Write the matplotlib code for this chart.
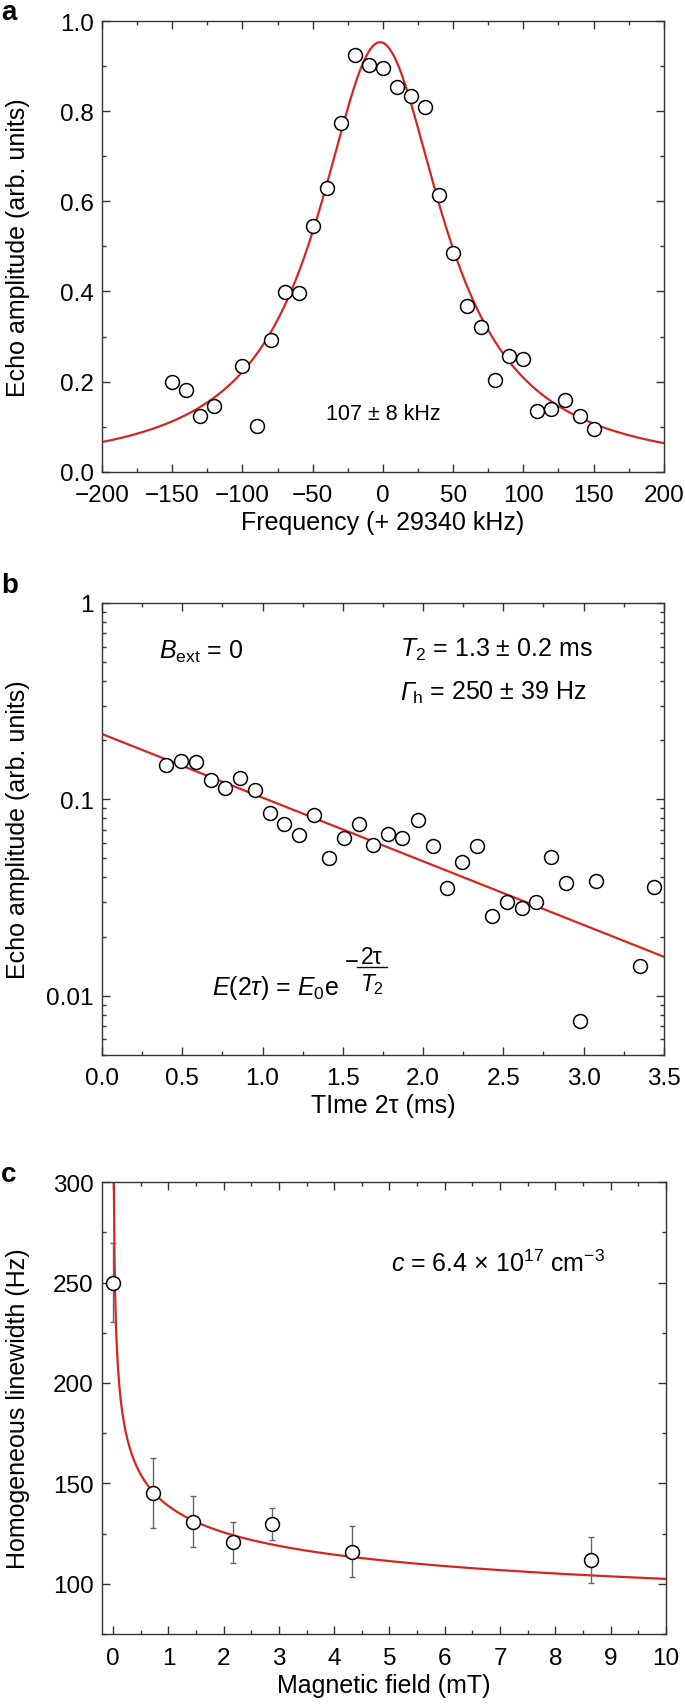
import numpy as np
import matplotlib
matplotlib.use('Agg')
import matplotlib.pyplot as plt
from matplotlib.ticker import MultipleLocator, LogLocator, FixedLocator, NullFormatter

plt.rcParams['font.family'] = ['Liberation Sans', 'DejaVu Sans']
plt.rcParams['mathtext.fontset'] = 'custom'
plt.rcParams['mathtext.rm'] = 'Liberation Sans'
plt.rcParams['mathtext.it'] = 'Liberation Sans:italic'
plt.rcParams['mathtext.bf'] = 'Liberation Sans:bold'

# panel a: echo amplitude vs frequency
freq = [-150, -140, -130, -120, -100, -90, -80, -70, -60, -50, -40, -30, -20, -10, 0,
        10, 20, 30, 40, 50, 60, 70, 80, 90, 100, 110, 120, 130, 140, 150]
amp = [0.200, 0.181, 0.124, 0.145, 0.235, 0.102, 0.293, 0.398, 0.396, 0.546, 0.629, 0.773,
       0.925, 0.902, 0.895, 0.853, 0.834, 0.810, 0.615, 0.485, 0.368, 0.322, 0.203, 0.257,
       0.250, 0.134, 0.139, 0.160, 0.124, 0.095]
lor_center = -2.0
lor_fwhm = 108.0
lor_peak = 0.953

# panel b: echo decay
t2tau = [0.397, 0.492, 0.584, 0.679, 0.769, 0.859, 0.954, 1.046, 1.136, 1.228, 1.321, 1.416,
         1.508, 1.598, 1.690, 1.783, 1.872, 1.967, 2.060, 2.152, 2.245, 2.337, 2.427, 2.522,
         2.614, 2.707, 2.800, 2.891, 2.980, 3.076, 3.350, 3.440]
echo = [0.150, 0.156, 0.154, 0.1255, 0.1138, 0.129, 0.112, 0.0849, 0.0749, 0.066, 0.0832,
        0.0503, 0.0633, 0.0749, 0.0588, 0.0664, 0.0633, 0.0788, 0.0577, 0.0353, 0.0481,
        0.058, 0.0254, 0.0301, 0.0280, 0.0299, 0.0507, 0.0373, 0.00746, 0.0385, 0.0142, 0.0359]
E0 = 0.215
T2 = 1.34

# panel c: homogeneous linewidth vs field
field = [0.0, 0.72, 1.44, 2.16, 2.88, 4.32, 8.64]
lw = [250, 145.4, 130.9, 120.6, 129.9, 116.0, 111.9]
lw_err = [19.5, 17.5, 12.7, 10.0, 8.0, 12.8, 11.3]
fit_c0 = 54.8
fit_a = 84.0
fit_p = 0.246

red = '#d3261e'
spine_col = '#333333'


def style(ax):
    ax.tick_params(which='both', direction='in', top=True, right=True, width=1.0,
                   color=spine_col)
    ax.tick_params(which='major', length=5.5, pad=6, labelsize=17.5)
    ax.tick_params(which='minor', length=3)
    ax.tick_params(axis='x', which='major', pad=9)
    for s in ax.spines.values():
        s.set_linewidth(1.0)
        s.set_color(spine_col)


fig = plt.figure(figsize=(6.85, 17.08), dpi=100)
ax_a = fig.add_axes([0.149, 0.7232, 0.820, 0.2639])
ax_b = fig.add_axes([0.149, 0.3819, 0.820, 0.2645])
ax_c = fig.add_axes([0.149, 0.0427, 0.823, 0.2646])

mk = dict(marker='o', ms=10, mfc='white', mec='black', mew=1.1, ls='none', zorder=3)
ylab_x = -0.128

# ---- a
xf = np.linspace(-200, 200, 600)
ax_a.plot(xf, lor_peak / (1 + (2 * (xf - lor_center) / lor_fwhm) ** 2), color=red, lw=1.6)
ax_a.plot(freq, amp, **mk)
ax_a.set_xlim(-200, 200)
ax_a.set_ylim(0, 1.0)
ax_a.xaxis.set_minor_locator(MultipleLocator(25))
ax_a.yaxis.set_minor_locator(MultipleLocator(0.1))
ax_a.set_xticks(range(-200, 201, 50))
ax_a.set_xticklabels(['\u2212200', '\u2212150', '\u2212100', '\u221250', '0', '50', '100', '150', '200'])
ax_a.set_yticks([0, 0.2, 0.4, 0.6, 0.8, 1.0])
ax_a.set_yticklabels(['0.0', '0.2', '0.4', '0.6', '0.8', '1.0'])
style(ax_a)
ax_a.set_xlabel('Frequency (+ 29340 kHz)', fontsize=18, labelpad=3)
ax_a.set_ylabel('Echo amplitude (arb. units)', fontsize=18)
ax_a.yaxis.set_label_coords(ylab_x, 0.5)
ax_a.text(0, 0.13, '107 \u00b1 8 kHz', fontsize=15.5, ha='center', va='center')

# ---- b
xb = np.linspace(0, 3.5, 100)
ax_b.plot(xb, E0 * np.exp(-xb / T2), color=red, lw=1.6)
ax_b.plot(t2tau, echo, **mk)
ax_b.set_yscale('log')
ax_b.set_xlim(0, 3.5)
ax_b.set_ylim(0.005, 1)
ax_b.xaxis.set_major_locator(MultipleLocator(0.5))
ax_b.xaxis.set_minor_locator(MultipleLocator(0.25))
ax_b.xaxis.set_major_formatter(matplotlib.ticker.FormatStrFormatter('%.1f'))
ax_b.yaxis.set_major_locator(FixedLocator([0.01, 0.1, 1]))
ax_b.yaxis.set_minor_locator(LogLocator(base=10, subs=np.arange(2, 10)))
ax_b.yaxis.set_minor_formatter(NullFormatter())
ax_b.set_yticklabels(['0.01', '0.1', '1'])
style(ax_b)
ax_b.set_xlabel('TIme 2\u03c4 (ms)', fontsize=18, labelpad=3)
ax_b.set_ylabel('Echo amplitude (arb. units)', fontsize=18)
ax_b.yaxis.set_label_coords(ylab_x, 0.5)
tb = ax_b.transAxes
ax_b.text(0.101, 0.878, r'$B_{\mathrm{ext}}$ = 0', transform=tb, fontsize=18, va='baseline')
ax_b.text(0.530, 0.883, r'$T_2$ = 1.3 $\pm$ 0.2 ms', transform=tb, fontsize=18, va='baseline')
# italic Gamma (mathtext keeps Greek capitals upright), rest placed after it
gam = ax_b.text(0.530, 0.788, '\u0393', transform=tb, fontsize=18, va='baseline',
                fontstyle='italic')
fig.canvas.draw()
gx = tb.inverted().transform(gam.get_window_extent().get_points())[1][0]
ax_b.text(gx - 0.004, 0.788, r'$_{\mathrm{h}}$ = 250 $\pm$ 39 Hz', transform=tb,
          fontsize=18, va='baseline')
ax_b.text(0.196, 0.134, r'$E$(2$\tau$) = $E_0$e', transform=tb, fontsize=18, va='baseline')
# exponent written as a full-size fraction
ax_b.text(0.432, 0.205, '\u2212', transform=tb, fontsize=17, va='center', ha='left')
ax_b.text(0.480, 0.203, '2\u03c4', transform=tb, fontsize=16.5, va='baseline', ha='center')
ax_b.plot([0.454, 0.508], [0.194, 0.194], transform=tb, color='black', lw=1.0)
ax_b.text(0.480, 0.186, r'$T_2$', transform=tb, fontsize=16.5, va='top', ha='center')

# ---- c
xc = np.linspace(0.012, 10, 800)
ax_c.plot(xc, fit_c0 + fit_a * xc ** (-fit_p), color=red, lw=1.6)
ax_c.errorbar(field, lw, yerr=lw_err, fmt='none', ecolor='#666666', elinewidth=1.0,
              capsize=2.3, capthick=1.0, zorder=2)
ax_c.plot(field, lw, **mk)
ax_c.set_xlim(-0.2, 10)
ax_c.set_ylim(75, 300)
ax_c.xaxis.set_major_locator(MultipleLocator(1))
ax_c.xaxis.set_minor_locator(MultipleLocator(0.5))
ax_c.yaxis.set_major_locator(MultipleLocator(50))
ax_c.yaxis.set_minor_locator(MultipleLocator(25))
style(ax_c)
ax_c.set_xlabel('Magnetic field (mT)', fontsize=18, labelpad=3)
ax_c.set_ylabel('Homogeneous linewidth (Hz)', fontsize=18)
ax_c.yaxis.set_label_coords(ylab_x, 0.5)
ax_c.text(0.512, 0.804, r'$c$ = 6.4 $\times$ 10$^{17}$ cm$^{-3}$', transform=ax_c.transAxes,
          fontsize=18, va='baseline')

# panel letters
fig.text(0.002, 1 - 20 / 1708, 'a', fontsize=20, fontweight='bold', va='baseline')
fig.text(0.002, 1 - 593 / 1708, 'b', fontsize=20, fontweight='bold', va='baseline')
fig.text(0.002, 1 - 1182 / 1708, 'c', fontsize=20, fontweight='bold', va='baseline')

fig.savefig('out.png', dpi=100)
